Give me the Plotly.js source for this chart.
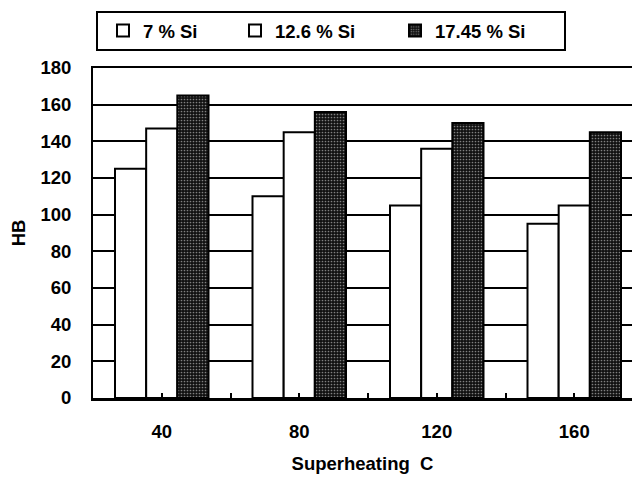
<!DOCTYPE html>
<html>
<head>
<meta charset="utf-8">
<script src="https://cdn.plot.ly/plotly-3.0.1.min.js"></script>
<style>html,body{margin:0;padding:0;background:#fff;}#chart{width:632px;height:481px;}</style>
</head>
<body>
<div id="chart"></div>
<script>
// Superheating temperature categories (x tick labels)
var categories = ['40', '80', '120', '160'];
// Series names
var seriesNames = ['7 % Si', '12.6 % Si', '17.45 % Si'];
// Hardness values (HB)
var si7 = [125, 110, 105, 95];
var si126 = [147, 145, 136, 105];
var si1745 = [165, 156, 150, 145];
var yTicks = [0, 20, 40, 60, 80, 100, 120, 140, 160, 180];

var xIdx = categories.map(function (c, i) { return i; });
var font = {family: 'Arial, "Liberation Sans", sans-serif', size: 18.5, color: '#000', weight: 'bold'};

var traces = [
  {type: 'bar', name: seriesNames[0], x: xIdx, y: si7, legend: 'legend',
   marker: {color: '#ffffff', line: {color: '#000', width: 2}}},
  {type: 'bar', name: seriesNames[1], x: xIdx, y: si126, legend: 'legend2',
   marker: {color: '#ffffff', line: {color: '#000', width: 2}}},
  {type: 'bar', name: seriesNames[2], x: xIdx, y: si1745, legend: 'legend3',
   marker: {color: '#111111', line: {color: '#000', width: 2},
            pattern: {shape: '.', bgcolor: '#111111', fgcolor: '#808080', size: 3, solidity: 0.25}}}
];

function legendAt(px) {
  return {orientation: 'h', x: (px - 93) / 539, xanchor: 'left', y: (398 - 31) / 330, yanchor: 'middle',
          bgcolor: 'rgba(0,0,0,0)', borderwidth: 0, font: font, itemwidth: 30};
}

var layout = {
  width: 632, height: 481,
  margin: {l: 93, r: 0, t: 68, b: 83, pad: 0},
  paper_bgcolor: '#fff', plot_bgcolor: '#fff',
  font: font,
  barmode: 'group', bargap: 0.32, bargroupgap: 0,
  showlegend: true,
  legend: legendAt(103),
  legend2: legendAt(235),
  legend3: legendAt(395),
  xaxis: {
    type: 'linear', range: [-0.5, 3.42],
    tickvals: xIdx, ticktext: categories,
    ticks: 'inside', ticklen: 5, tickwidth: 2, tickcolor: '#000',
    minor: {ticks: 'inside', tick0: 0.5, dtick: 1, ticklen: 5, tickwidth: 2, tickcolor: '#000', showgrid: false},
    showgrid: false, zeroline: false,
    showline: true, linecolor: '#000', linewidth: 2.5, mirror: true,
    ticklabelstandoff: 15,
    title: {text: 'Superheating\u00a0\u00a0C', font: font, standoff: 17}
  },
  yaxis: {
    range: [0, 180], tickvals: yTicks,
    ticks: '', showgrid: true, gridcolor: '#000', gridwidth: 2,
    zeroline: false, showline: true, linecolor: '#000', linewidth: 2,
    ticklabelstandoff: 16,
    title: {text: 'HB', font: font, standoff: 10}
  },
  shapes: [
    {type: 'rect', xref: 'paper', yref: 'paper',
     x0: (97 - 93) / 539, x1: (565 - 93) / 539,
     y0: (398 - 50) / 330, y1: (398 - 12) / 330,
     line: {color: '#000', width: 2}, fillcolor: 'rgba(0,0,0,0)', layer: 'above'}
  ]
};

Plotly.newPlot('chart', traces, layout, {displayModeBar: false, staticPlot: true});
</script>
</body>
</html>
